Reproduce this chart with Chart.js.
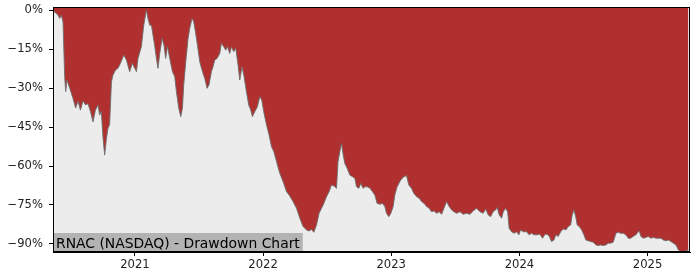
<!DOCTYPE html>
<html>
<head>
<meta charset="utf-8">
<script src="https://cdn.jsdelivr.net/npm/chart.js@4.4.1/dist/chart.umd.min.js"></script>
<style>
  html, body { margin: 0; padding: 0; background: #fff; }
  #wrap { width: 700px; height: 280px; }
</style>
</head>
<body>
<div id="wrap"><canvas id="ddChart" width="700" height="280"></canvas></div>
<script>
// ==================== DATA ====================
const chartTitle = 'RNAC (NASDAQ) - Drawdown Chart';

// decimal years
const dates = [
  2020.362, 2020.366, 2020.400, 2020.413, 2020.426, 2020.439, 2020.452, 2020.460, 2020.470, 2020.491,
  2020.517, 2020.538, 2020.556, 2020.575, 2020.595, 2020.616, 2020.634, 2020.653, 2020.673, 2020.692,
  2020.712, 2020.725, 2020.738, 2020.751, 2020.764, 2020.778, 2020.790, 2020.803, 2020.817, 2020.829,
  2020.850, 2020.868, 2020.887, 2020.913, 2020.934, 2020.959, 2020.980, 2020.985, 2021.012, 2021.024,
  2021.051, 2021.069, 2021.090, 2021.102, 2021.116, 2021.129, 2021.141, 2021.155, 2021.168, 2021.180,
  2021.194, 2021.212, 2021.227, 2021.240, 2021.254, 2021.272, 2021.293, 2021.311, 2021.324, 2021.342,
  2021.358, 2021.371, 2021.381, 2021.397, 2021.415, 2021.428, 2021.446, 2021.459, 2021.472, 2021.488,
  2021.506, 2021.527, 2021.545, 2021.563, 2021.578, 2021.597, 2021.610, 2021.623, 2021.641, 2021.662,
  2021.675, 2021.693, 2021.709, 2021.722, 2021.740, 2021.753, 2021.771, 2021.787, 2021.805, 2021.818,
  2021.836, 2021.852, 2021.870, 2021.888, 2021.904, 2021.917, 2021.935, 2021.956, 2021.974, 2021.990,
  2022.005, 2022.027, 2022.047, 2022.066, 2022.084, 2022.105, 2022.130, 2022.156, 2022.183, 2022.208,
  2022.234, 2022.261, 2022.287, 2022.312, 2022.339, 2022.359, 2022.378, 2022.396, 2022.417, 2022.437,
  2022.456, 2022.474, 2022.495, 2022.515, 2022.534, 2022.554, 2022.573, 2022.585, 2022.599, 2022.612,
  2022.625, 2022.638, 2022.656, 2022.677, 2022.698, 2022.716, 2022.729, 2022.747, 2022.763, 2022.781,
  2022.794, 2022.812, 2022.833, 2022.854, 2022.872, 2022.890, 2022.911, 2022.932, 2022.950, 2022.963,
  2022.981, 2022.997, 2023.015, 2023.028, 2023.046, 2023.067, 2023.085, 2023.101, 2023.119, 2023.137,
  2023.158, 2023.176, 2023.198, 2023.218, 2023.237, 2023.257, 2023.276, 2023.296, 2023.315, 2023.335,
  2023.354, 2023.374, 2023.393, 2023.411, 2023.432, 2023.452, 2023.471, 2023.489, 2023.510, 2023.536,
  2023.561, 2023.588, 2023.614, 2023.639, 2023.666, 2023.692, 2023.717, 2023.738, 2023.756, 2023.775,
  2023.795, 2023.814, 2023.827, 2023.842, 2023.861, 2023.874, 2023.892, 2023.908, 2023.920, 2023.939,
  2023.959, 2023.978, 2023.996, 2024.009, 2024.030, 2024.056, 2024.076, 2024.095, 2024.113, 2024.134,
  2024.160, 2024.181, 2024.199, 2024.217, 2024.233, 2024.251, 2024.269, 2024.285, 2024.303, 2024.322,
  2024.342, 2024.363, 2024.381, 2024.400, 2024.412, 2024.425, 2024.439, 2024.451, 2024.467, 2024.486,
  2024.503, 2024.519, 2024.537, 2024.556, 2024.576, 2024.597, 2024.615, 2024.634, 2024.654, 2024.675,
  2024.693, 2024.712, 2024.732, 2024.753, 2024.771, 2024.790, 2024.810, 2024.831, 2024.849, 2024.868,
  2024.888, 2024.909, 2024.927, 2024.935, 2024.948, 2024.966, 2024.987, 2025.005, 2025.027, 2025.045,
  2025.066, 2025.084, 2025.105, 2025.123, 2025.144, 2025.162, 2025.183, 2025.201, 2025.222, 2025.240,
  2025.258, 2025.279, 2025.300, 2025.318
];

// drawdown in %
const drawdown = [
  0, -0.4, -1.9, -3.2, -2.0, -4.5, -25.6, -31.4, -27.0, -30.0,
  -34.0, -37.7, -35.0, -38.5, -35.0, -36.5, -36.0, -39.0, -43.0, -38.5,
  -36.5, -40.4, -39.0, -49.0, -55.8, -49.4, -45.5, -44.0, -27.6, -25.0,
  -23.0, -22.4, -20.5, -17.3, -19.2, -23.7, -20.5, -21.0, -23.7, -18.6,
  -14.0, -5.8, 0, -3.2, -5.8, -5.8, -9.6, -14.0, -18.6, -22.4,
  -16.7, -10.9, -13.5, -18.6, -14.0, -18.6, -23.7, -25.6, -31.4, -37.8,
  -41.0, -37.8, -28.8, -19.9, -10.9, -7.0, -3.2, -4.5, -8.3, -13.5,
  -19.9, -23.7, -26.3, -30.1, -28.8, -23.7, -21.8, -19.2, -18.6, -16.7,
  -12.8, -14.1, -15.4, -14.1, -16.7, -14.1, -16.0, -14.7, -21.2, -26.9,
  -21.8, -25.6, -31.4, -36.5, -38.5, -41.0, -39.1, -37.2, -33.3, -34.6,
  -39.1, -44.2, -48.1, -52.6, -54.5, -58.3, -62.8, -66.0, -69.9, -71.5,
  -73.7, -76.3, -80.1, -83.3, -84.6, -85.0, -84.4, -85.5, -82.7, -78.2,
  -76.3, -74.4, -71.8, -69.9, -67.3, -67.7, -68.6, -58.3, -54.5, -51.3,
  -55.8, -59.0, -60.9, -63.5, -64.1, -64.7, -68.0, -68.6, -66.7, -68.6,
  -68.0, -68.0, -68.5, -69.9, -71.2, -74.4, -74.7, -74.4, -75.6, -78.2,
  -79.5, -78.2, -75.6, -71.2, -68.0, -66.0, -64.7, -64.1, -63.7, -67.3,
  -68.6, -70.5, -71.8, -72.4, -73.7, -74.4, -75.6, -76.3, -77.6, -77.3,
  -78.2, -77.6, -78.6, -76.3, -73.7, -75.6, -76.9, -77.6, -78.2, -77.6,
  -78.6, -78.2, -78.6, -77.3, -76.3, -77.6, -78.2, -76.6, -78.8, -79.5,
  -77.6, -76.9, -76.0, -78.8, -80.1, -77.6, -76.3, -77.6, -84.0, -85.3,
  -85.9, -85.3, -86.5, -84.6, -85.3, -85.3, -86.5, -85.9, -86.5, -86.5,
  -86.3, -87.8, -86.3, -86.3, -87.1, -89.1, -88.5, -86.5, -87.1, -85.3,
  -84.2, -84.6, -83.3, -82.7, -78.8, -76.9, -79.5, -82.7, -83.3, -84.6,
  -86.5, -88.5, -88.8, -89.1, -89.3, -90.4, -90.6, -90.4, -90.6, -90.4,
  -89.7, -89.7, -89.3, -85.9, -85.5, -85.9, -85.9, -86.5, -87.8, -87.8,
  -87.1, -86.5, -85.3, -85.0, -87.1, -87.8, -87.5, -87.1, -87.8, -87.5,
  -87.8, -87.8, -87.8, -88.5, -88.8, -88.5, -89.1, -89.7, -90.4, -92.3,
  -92.9, -92.9, -92.7, -92.3
];

const xTicks = [2021, 2022, 2023, 2024, 2025];
const yTicks = [0, -15, -30, -45, -60, -75, -90];

// ==================== PLUGINS ====================
const plotBg = {
  id: 'plotBg',
  beforeDraw(chart) {
    const { ctx, chartArea: a } = chart;
    ctx.save();
    ctx.fillStyle = '#ececec';
    ctx.fillRect(a.left, a.top, a.right - a.left, a.bottom - a.top);
    ctx.restore();
  }
};

const frameAndLabel = {
  id: 'frameAndLabel',
  afterDatasetsDraw(chart) {
    const { ctx, chartArea: a } = chart;
    ctx.save();
    // title box in lower-left corner
    ctx.font = "13.9px 'DejaVu Sans'";
    const w = ctx.measureText(chartTitle).width;
    ctx.fillStyle = '#b3b3b3';
    ctx.fillRect(a.left, a.bottom - 19, w + 6, 19);
    ctx.fillStyle = '#000';
    ctx.textBaseline = 'alphabetic';
    ctx.fillText(chartTitle, a.left + 3, a.bottom - 4);
    // frame
    ctx.strokeStyle = '#000';
    ctx.lineWidth = 1;
    ctx.strokeRect(a.left + 0.5, a.top + 0.5, a.right - a.left - 1, a.bottom - a.top - 1);
    ctx.restore();
  }
};

// ==================== CHART ====================
const tickFont = { family: "'DejaVu Sans', sans-serif", size: 11.6 };

new Chart(document.getElementById('ddChart').getContext('2d'), {
  type: 'line',
  data: {
    datasets: [{
      data: dates.map((d, i) => ({ x: d, y: drawdown[i] })),
      borderColor: 'rgba(110,110,110,0.9)',
      borderWidth: 1,
      backgroundColor: '#b03030',
      fill: 'end',
      pointRadius: 0,
      tension: 0
    }]
  },
  options: {
    responsive: false,
    animation: false,
    layout: { padding: { top: 7, right: 10, left: 0, bottom: 0 } },
    plugins: { legend: { display: false }, tooltip: { enabled: false } },
    scales: {
      x: {
        type: 'linear',
        min: 2020.361,
        max: 2025.331,
        afterBuildTicks: s => { s.ticks = xTicks.map(v => ({ value: v })); },
        afterFit: s => { s.height = 28; s.paddingLeft = 0; s.paddingRight = 0; },
        ticks: { color: '#222', font: tickFont, padding: 2, maxRotation: 0, callback: v => String(v) },
        grid: { drawOnChartArea: false, drawTicks: true, tickLength: 4, color: '#000' },
        border: { display: true, color: '#000' }
      },
      y: {
        min: -93.1,
        max: 1.2,
        afterBuildTicks: s => { s.ticks = yTicks.map(v => ({ value: v })); },
        afterFit: s => { s.width = 53; s.paddingTop = 0; s.paddingBottom = 0; },
        ticks: { color: '#222', font: tickFont, padding: 6, callback: v => (v < 0 ? '\u2212' + Math.abs(v) : v) + '%' },
        grid: { drawOnChartArea: false, drawTicks: true, tickLength: 4, color: '#000' },
        border: { display: true, color: '#000' }
      }
    }
  },
  plugins: [plotBg, frameAndLabel]
});
</script>
</body>
</html>
